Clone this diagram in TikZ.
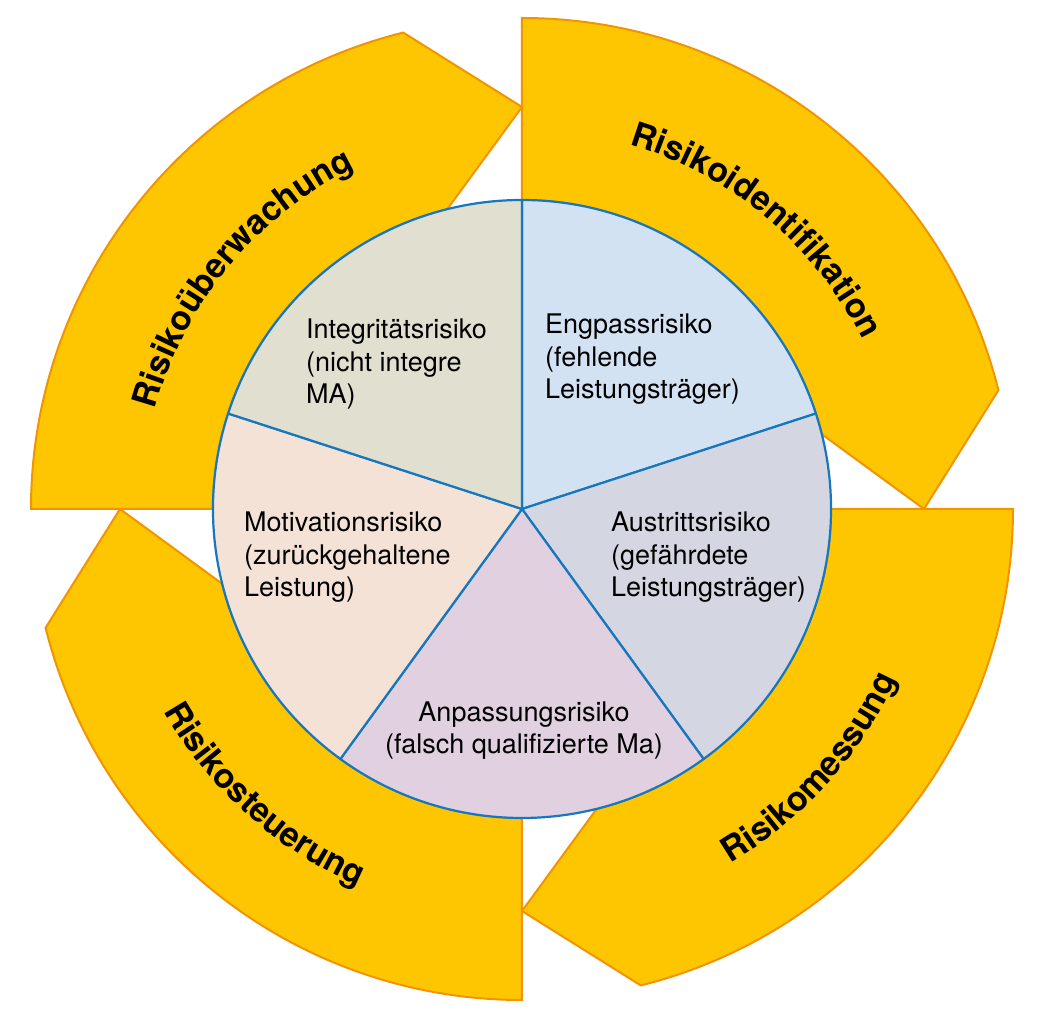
\documentclass[tikz,border=0pt]{standalone}
\usepackage{fontspec}
\setmainfont{TeX Gyre Heros}
\usetikzlibrary{decorations.text}
\definecolor{bandyellow}{RGB}{254,198,0}
\definecolor{bandorange}{RGB}{241,148,0}
\definecolor{pieblue}{RGB}{22,118,190}
\definecolor{engpassblue}{RGB}{211,226,243}
\definecolor{austrittgrey}{RGB}{212,215,226}
\definecolor{anpassunglila}{RGB}{224,208,224}
\definecolor{motivationpeach}{RGB}{244,226,214}
\definecolor{integritaetbeige}{RGB}{224,223,208}
\newcommand{\phasefont}{\fontsize{34}{34}\selectfont\bfseries}
\tikzstyle{band} = [fill=bandyellow, draw=bandorange, line width=2pt, line join=miter]
\tikzstyle{slice} = [draw=pieblue, line width=2.2pt, line join=round]
\tikzstyle{risk} = [align=left, inner sep=0pt, font=\fontsize{27}{32.5}\selectfont]
\tikzstyle{phase} = [decorate, decoration={text along path, text align=center, text color=black}]

\begin{document}
\begin{tikzpicture}[x=1pt, y=1pt]
  \useasboundingbox (-522,-513) rectangle (525,509);

  % outer cycle
  \draw [band] (90:309) -- (90:491) arc[start angle=90, end angle=14, radius=491]
    -- (0:402) -- (14:309) arc[start angle=14, end angle=90, radius=309] -- cycle;
  \draw [band] (0:309) -- (0:491) arc[start angle=0, end angle=-76, radius=491]
    -- (-90:402) -- (-76:309) arc[start angle=-76, end angle=0, radius=309] -- cycle;
  \draw [band] (-90:309) -- (-90:491) arc[start angle=-90, end angle=-166, radius=491]
    -- (180:402) -- (-166:309) arc[start angle=-166, end angle=-90, radius=309] -- cycle;
  \draw [band] (180:309) -- (180:491) arc[start angle=180, end angle=104, radius=491]
    -- (90:402) -- (104:309) arc[start angle=104, end angle=180, radius=309] -- cycle;

  \path [phase, decoration={text={|\phasefont|Risikoidentifikation}}]
    (90:380) arc[start angle=90, end angle=10, radius=380];
  \path [phase, decoration={text={|\phasefont|Risikomessung}}]
    (-82:411) arc[start angle=-82, end angle=-2, radius=411];
  \path [phase, decoration={text={|\phasefont|Risikosteuerung}}]
    (188:411) arc[start angle=188, end angle=268, radius=411];
  \path [phase, decoration={text={|\phasefont|Risikoüberwachung}}]
    (180:380) arc[start angle=180, end angle=101, radius=380];

  % inner pie
  \filldraw [slice, fill=engpassblue] (0,0) -- (18:309) arc[start angle=18, end angle=90, radius=309] -- cycle;
  \filldraw [slice, fill=austrittgrey] (0,0) -- (-54:309) arc[start angle=-54, end angle=18, radius=309] -- cycle;
  \filldraw [slice, fill=anpassunglila] (0,0) -- (-126:309) arc[start angle=-126, end angle=-54, radius=309] -- cycle;
  \filldraw [slice, fill=motivationpeach] (0,0) -- (162:309) arc[start angle=162, end angle=234, radius=309] -- cycle;
  \filldraw [slice, fill=integritaetbeige] (0,0) -- (90:309) arc[start angle=90, end angle=162, radius=309] -- cycle;

  \node (integritaet) [risk, anchor=base west] at (-216,105) {Integritätsrisiko\\(nicht integre\\MA)};
  \node (engpass) [risk, anchor=base west] at (23,110) {Engpassrisiko\\(fehlende\\Leistungsträger)};
  \node (austritt) [risk, anchor=base west] at (89,-88) {Austrittsrisiko\\(gefährdete\\Leistungsträger)};
  \node (motivation) [risk, anchor=base west] at (-278,-88) {Motivationsrisiko\\(zurückgehaltene\\Leistung)};
  \node (anpassung) [risk, align=center, anchor=base] at (2,-245) {Anpassungsrisiko\\(falsch qualifizierte Ma)};
\end{tikzpicture}
\end{document}
